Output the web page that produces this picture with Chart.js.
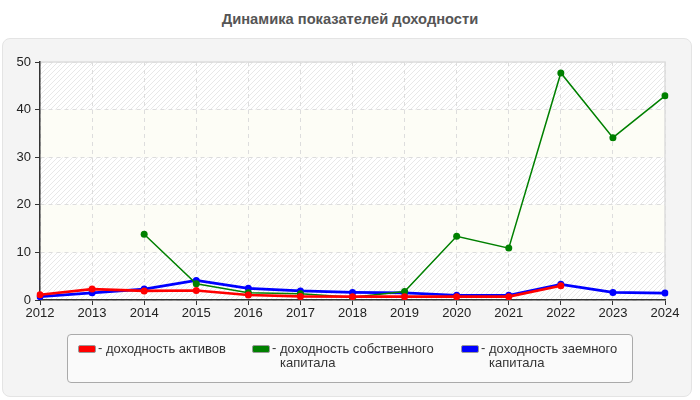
<!DOCTYPE html>
<html><head><meta charset="utf-8">
<script src="https://cdn.jsdelivr.net/npm/chart.js@4.4.1/dist/chart.umd.min.js"></script>
<style>
html,body{margin:0;padding:0;background:#fff;width:700px;height:400px;overflow:hidden;font-family:"Liberation Sans",Arial,sans-serif;}
#title{position:absolute;left:0;top:11px;width:700px;text-align:center;font-weight:bold;font-size:14.7px;color:#555;}
#panel{position:absolute;left:2px;top:38px;width:688px;height:357px;background:#f4f4f4;border:1px solid #e4e4e4;border-radius:8px;}
#c{position:absolute;left:0;top:0;}
#legend{position:absolute;left:67px;top:334px;width:564px;height:47px;border:1px solid #aaa;border-radius:4px;background:#fafafa;}
.it{position:absolute;top:7px;font-size:13px;color:#333;line-height:14px;}
.sw{position:absolute;top:3px;left:0;width:16px;height:6px;border:1px solid #999;border-radius:2px;}
.tx{position:absolute;left:21px;top:0;}
.ds{position:absolute;left:20px;top:-1px;}
</style></head><body>
<div id="title">Динамика показателей доходности</div>
<div id="panel"></div>
<canvas id="c" width="700" height="400"></canvas>
<div id="legend"></div>
<script>
const years = ["2012","2013","2014","2015","2016","2017","2018","2019","2020","2021","2022","2023","2024"];
const roa = [1.1, 2.3, 1.9, 2.0, 1.05, 0.75, 0.7, 0.7, 0.7, 0.7, 3.0, null, null];
const roe = [null, null, 13.8, 3.4, 1.5, 1.3, 0.6, 1.8, 13.4, 10.9, 47.7, 34.1, 42.9];
const rod = [0.7, 1.5, 2.3, 4.1, 2.45, 1.9, 1.6, 1.5, 1.0, 1.0, 3.3, 1.6, 1.45];
const seriesNames = ["доходность активов", "доходность собственного капитала", "доходность заемного капитала"];
const seriesColors = ["#ff0000", "#008000", "#0000ff"];
const yTicks = [0, 10, 20, 30, 40, 50];

// legend (HTML)
const legendPos = [10, 184, 393];
const legendWidths = [150, 165, 150];
const leg = document.getElementById('legend');
seriesNames.forEach((n, i) => {
  const d = document.createElement('div');
  d.className = 'it';
  d.style.left = legendPos[i] + 'px';
  d.style.width = (legendWidths[i] + 30) + 'px';
  const sw = document.createElement('div'); sw.className = 'sw'; sw.style.background = seriesColors[i];
  const ds = document.createElement('span'); ds.className = 'ds'; ds.textContent = '-';
  const tx = document.createElement('div'); tx.className = 'tx'; tx.style.left = '28px'; tx.style.width = legendWidths[i] + 'px'; tx.textContent = n;
  d.appendChild(sw); d.appendChild(ds); d.appendChild(tx);
  leg.appendChild(d);
});

// hatch pattern
function makeHatch() {
  const p = document.createElement('canvas');
  p.width = 5; p.height = 5;
  const g = p.getContext('2d');
  g.fillStyle = '#ffffff'; g.fillRect(0, 0, 5, 5);
  g.strokeStyle = '#e8e8e8'; g.lineWidth = 1;
  g.beginPath();
  g.moveTo(0, 5); g.lineTo(5, 0);
  g.moveTo(-1, 1); g.lineTo(1, -1);
  g.moveTo(4, 6); g.lineTo(6, 4);
  g.stroke();
  return p;
}

const bgPlugin = {
  id: 'bands',
  beforeDraw(chart) {
    const {ctx, chartArea: a, scales: {y}} = chart;
    const pat = ctx.createPattern(makeHatch(), 'repeat');
    ctx.save();
    for (let i = 0; i < yTicks.length - 1; i++) {
      const top = y.getPixelForValue(yTicks[i + 1]);
      const bot = y.getPixelForValue(yTicks[i]);
      ctx.fillStyle = (i % 2 === 0) ? pat : '#fdfdf6';
      ctx.fillRect(a.left, top, a.right - a.left, bot - top);
    }
    ctx.strokeStyle = '#dddddd'; ctx.lineWidth = 1.5;
    ctx.beginPath();
    ctx.moveTo(a.left, a.top); ctx.lineTo(a.right, a.top); ctx.lineTo(a.right, a.bottom);
    ctx.stroke();
    ctx.restore();
  }
};

const mk = (label, data, color, w) => ({
  label, data, borderColor: color, backgroundColor: color,
  borderWidth: w, pointRadius: 3.5, pointHoverRadius: 3.5, pointBorderWidth: 0,
  tension: 0, spanGaps: false, fill: false
});

new Chart(document.getElementById('c'), {
  type: 'line',
  data: {
    labels: years,
    datasets: [
      mk(seriesNames[0], roa, seriesColors[0], 2.7),
      mk(seriesNames[1], roe, seriesColors[1], 1.5),
      mk(seriesNames[2], rod, seriesColors[2], 2.7)
    ]
  },
  options: {
    responsive: false, animation: false, devicePixelRatio: 1,
    layout: {padding: {top: 62, right: 35, left: 0, bottom: 0}},
    plugins: {legend: {display: false}, title: {display: false}, tooltip: {enabled: false}},
    scales: {
      x: {
        offset: false,
        grid: {color: '#dddddd', tickColor: '#333', tickLength: 5, lineWidth: 1},
        border: {display: true, color: '#333', width: 1.5, dash: [4, 4]},
        ticks: {color: '#222', font: {family: 'Liberation Sans', size: 13}, padding: 1, maxRotation: 0, autoSkip: false},
        afterFit(s) { s.height = 100; }
      },
      y: {
        min: 0, max: 50,
        grid: {color: '#dddddd', tickColor: '#333', tickLength: 5, lineWidth: 1},
        border: {display: true, color: '#333', width: 1.5, dash: [4, 4]},
        ticks: {stepSize: 10, color: '#222', font: {family: 'Liberation Sans', size: 13}, padding: 4},
        afterFit(s) { s.width = 40; }
      }
    }
  },
  plugins: [bgPlugin]
});
</script>
</body></html>
